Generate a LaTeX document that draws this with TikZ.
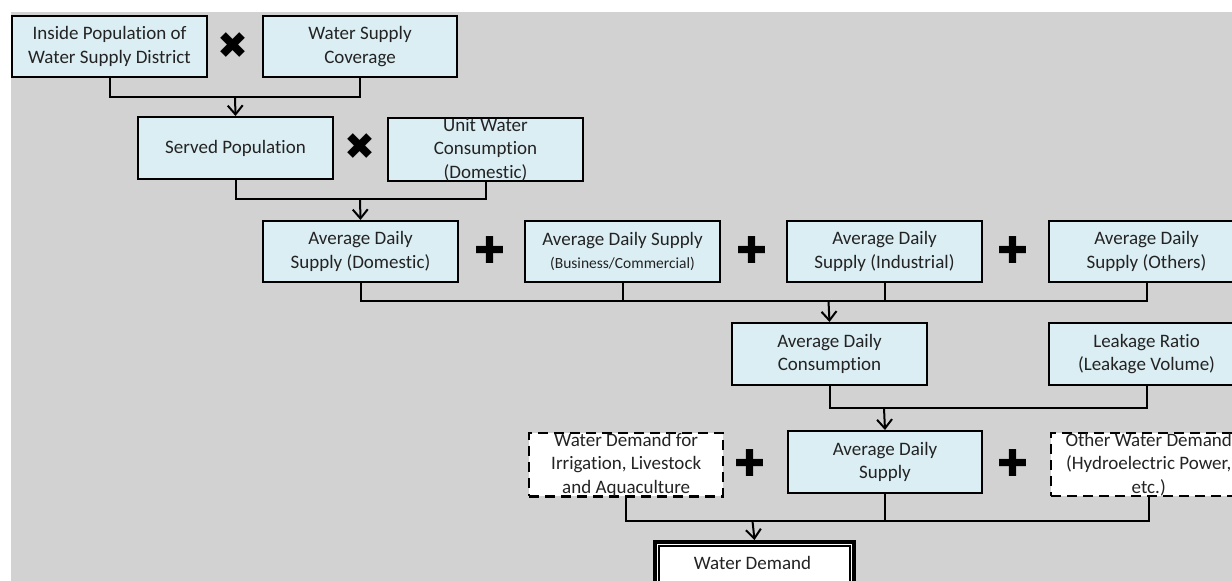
\documentclass[tikz,border=0pt]{standalone}
\usepackage{fontspec}
\setmainfont{Carlito}[Ligatures=NoCommon]
\newfontfamily\symfont{DejaVu Sans}
\usetikzlibrary{arrows.meta}
\definecolor{bggray}{RGB}{210,210,210}
\definecolor{boxblue}{RGB}{219,238,243}
\definecolor{inktext}{RGB}{35,35,35}
\tikzset{
  stepbox/.style={draw=black, line width=2pt, fill=boxblue, anchor=north west,
    inner sep=0pt, align=center, text=inktext,
    font=\fontsize{19}{23.5}\selectfont},
  dashbox/.style={stepbox, fill=white, dash pattern=on 10pt off 6pt, line width=2.4pt},
  link/.style={draw=black, line width=2pt},
  feed/.style={link, -{Straight Barb[length=9pt,width=15pt,line width=2pt]}},
  times/.style={font=\symfont\fontsize{37}{37}\selectfont, inner sep=0pt},
  plus/.style={font=\symfont\fontsize{37}{37}\selectfont, inner sep=0pt},
}
\begin{document}
\begin{tikzpicture}[x=1pt, y=-1pt]
  \useasboundingbox (0,0) rectangle (1232,581);
  \clip (0,0) rectangle (1232,581);
  % page and grey panel
  \fill[white] (0,0) rectangle (1232,581);
  \fill[bggray] (11,12) rectangle (1240,590);

  % first stage
  \node[stepbox, minimum width=195pt, minimum height=61pt] (inpop) at (11,15)
    {Inside Population of\\Water Supply District};
  \node[stepbox, minimum width=194pt, minimum height=61pt] (cover) at (262,15)
    {Water Supply\\Coverage};
  \node[times] (x1) at (233,46) {✖};

  % second stage
  \node[stepbox, minimum width=195pt, minimum height=62pt] (served) at (137,116)
    {Served Population};
  \node[stepbox, minimum width=195pt, minimum height=62pt] (unit) at (387,117)
    {Unit Water\\Consumption\\(Domestic)};
  \node[times] (x2) at (360,147) {✖};

  % daily supply by sector
  \node[stepbox, minimum width=195pt, minimum height=61pt] (dom) at (262,220)
    {Average Daily\\Supply (Domestic)};
  \node[stepbox, minimum width=195pt, minimum height=61pt] (bus) at (524,220)
    {Average Daily Supply\\{\fontsize{15.5}{19}\selectfont(Business/Commercial)}};
  \node[stepbox, minimum width=195pt, minimum height=61pt] (ind) at (786,220)
    {Average Daily\\Supply (Industrial)};
  \node[stepbox, minimum width=195pt, minimum height=61pt] (oth) at (1048,220)
    {Average Daily\\Supply (Others)};
  \node[plus] (p1) at (490,250) {✚};
  \node[plus] (p2) at (752,250) {✚};
  \node[plus] (p3) at (1013,250) {✚};

  % consumption and leakage
  \node[stepbox, minimum width=195pt, minimum height=62pt] (cons) at (731,322)
    {Average Daily\\Consumption};
  \node[stepbox, minimum width=195pt, minimum height=62pt] (leak) at (1048,322)
    {Leakage Ratio\\(Leakage Volume)};

  % supply and other demands
  \node[dashbox, minimum width=194pt, minimum height=62pt] (irr) at (528,432)
    {Water Demand for\\Irrigation, Livestock\\and Aquaculture};
  \node[stepbox, minimum width=194pt, minimum height=62pt] (ads) at (787,430)
    {Average Daily\\Supply};
  \node[dashbox, minimum width=195pt, minimum height=62pt] (hydro) at (1050,432)
    {Other Water Demand\\(Hydroelectric Power,\\etc.)};
  \node[plus] (p4) at (750,463) {✚};
  \node[plus] (p5) at (1013,463) {✚};

  % final result
  \node[draw=black, line width=4pt, fill=white, anchor=north west, inner sep=0pt,
    minimum width=199pt, minimum height=62pt] (demand) at (653,540) {};
  \draw[line width=1.3pt] ([xshift=6pt,yshift=-6pt]demand.north west) rectangle
    ([xshift=-6pt,yshift=6pt]demand.south east);
  \node[text=inktext, font=\fontsize{19}{23.5}\selectfont] (demandtxt) at (752.5,563)
    {Water Demand};

  % junction points on the collecting lines
  \coordinate (j1) at (235,97);
  \coordinate (j2) at (360,199);
  \coordinate (j3) at (828.5,301);
  \coordinate (j4) at (884,408);
  \coordinate (j5) at (752.5,521);

  % collecting lines
  \draw[link] (inpop.south) |- (j1) -| (cover.south);
  \draw[link] (served.south) |- (j2) -| (unit.south);
  \draw[link] (dom.south) |- (j3) -| (oth.south);
  \draw[link] (bus.south) -- (bus.south |- j3);
  \draw[link] (ind.south) -- (ind.south |- j3);
  \draw[link] (cons.south) |- (j4) -| (leak.south);
  \draw[link] (irr.south) |- (j5) -| (hydro.south);
  \draw[link] (ads.south) -- (ads.south |- j5);

  % arrows into the next stage
  \draw[feed] (j1) -- (served.north);
  \draw[feed] (j2) -- (dom.north);
  \draw[feed] (j3) -- (cons.north);
  \draw[feed] (j4) -- (ads.north);
  \draw[feed] (j5) -- (demand.north);
\end{tikzpicture}
\end{document}
